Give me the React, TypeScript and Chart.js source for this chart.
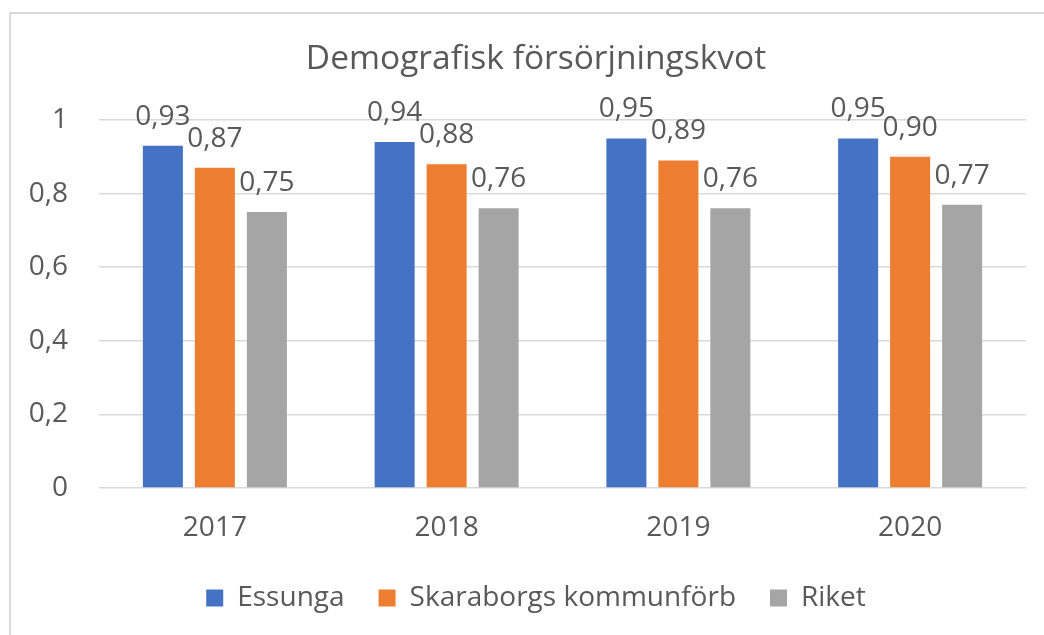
import React, { useEffect, useRef } from "react";
import { Chart, registerables } from "chart.js";

Chart.register(...registerables);

const categories = ["2017", "2018", "2019", "2020"];
const essunga = [0.93, 0.94, 0.95, 0.95];
const skaraborg = [0.87, 0.88, 0.89, 0.9];
const riket = [0.75, 0.76, 0.76, 0.77];
const seriesNames = ["Essunga", "Skaraborgs kommunförb", "Riket"];
const seriesColors = ["#4472C4", "#ED7D31", "#A5A5A5"];
const titleText = "Demografisk försörjningskvot";

const FONT = "'Open Sans', 'Noto Sans', sans-serif";
const TEXT = "#595959";

const fmt = (v: number) => v.toFixed(2).replace(".", ",");

const dataLabels = {
  id: "dataLabels",
  afterDatasetsDraw(chart: any) {
    const ctx = chart.ctx;
    ctx.save();
    ctx.font = `28px ${FONT}`;
    ctx.fillStyle = TEXT;
    ctx.textAlign = "center";
    ctx.textBaseline = "middle";
    chart.data.datasets.forEach((ds: any, di: number) => {
      const meta = chart.getDatasetMeta(di);
      meta.data.forEach((bar: any, i: number) => {
        ctx.fillText(fmt(ds.data[i]), bar.x, bar.y - 29);
      });
    });
    ctx.restore();
  },
};

export default function App() {
  const ref = useRef<HTMLCanvasElement | null>(null);
  useEffect(() => {
    if (!ref.current) return;
    const data = [essunga, skaraborg, riket];
    const chart = new Chart(ref.current, {
      type: "bar",
      data: {
        labels: categories,
        datasets: seriesNames.map((name, i) => ({
          label: name,
          data: data[i],
          backgroundColor: seriesColors[i],
          borderWidth: 0,
          barPercentage: 0.77,
          categoryPercentage: 0.673,
          yAxisID: "y",
        })),
      },
      options: {
        animation: false,
        responsive: false,
        maintainAspectRatio: false,
        layout: { padding: { left: 0, right: 0, top: 0, bottom: 13 } },
        plugins: {
          title: {
            display: true,
            text: titleText,
            color: TEXT,
            font: { family: FONT, size: 33.5, weight: "normal" },
            padding: { top: 39, bottom: 40.8 },
          },
          legend: {
            position: "bottom",
            labels: {
              color: TEXT,
              font: { family: FONT, size: 28 },
              boxWidth: 17,
              boxHeight: 17,
              padding: 34,
            },
          },
          tooltip: { enabled: false },
        },
        scales: {
          x: {
            grid: { display: false, drawTicks: false },
            border: { display: false },
            ticks: {
              color: TEXT,
              font: { family: FONT, size: 28 },
              padding: 23,
            },
            afterFit(scale: any) {
              scale.height = 62;
            },
          },
          y: {
            position: "left",
            min: 0,
            max: 1,
            grid: { color: "#d9d9d9", lineWidth: 1.5, drawTicks: false },
            border: { display: false },
            ticks: {
              stepSize: 0.2,
              color: TEXT,
              font: { family: FONT, size: 28 },
              padding: 31,
              callback: (v: any) => String(Math.round(Number(v) * 10) / 10).replace(".", ","),
            },
            afterFit(scale: any) {
              scale.width = 99;
            },
          },
          spacer: {
            type: "linear",
            position: "right",
            display: true,
            grid: { display: false, drawTicks: false },
            border: { display: false },
            ticks: { display: false },
            afterFit(scale: any) {
              scale.width = 46;
            },
          },
        },
      },
      plugins: [dataLabels],
    });
    return () => chart.destroy();
  }, []);

  return (
    <div
      style={{
        position: "fixed",
        left: 0,
        top: 0,
        width: 1044,
        height: 635,
        overflow: "hidden",
        background: "#fff",
      }}
    >
      <div
        style={{
          position: "absolute",
          left: 9,
          top: 12,
          width: 1200,
          height: 800,
          borderTop: "2px solid #d9d9d9",
          borderLeft: "2px solid #d9d9d9",
        }}
      />
      <canvas
        ref={ref}
        width={1072}
        height={635}
        style={{ position: "absolute", left: 0, top: 0, width: 1072, height: 635 }}
      />
    </div>
  );
}
